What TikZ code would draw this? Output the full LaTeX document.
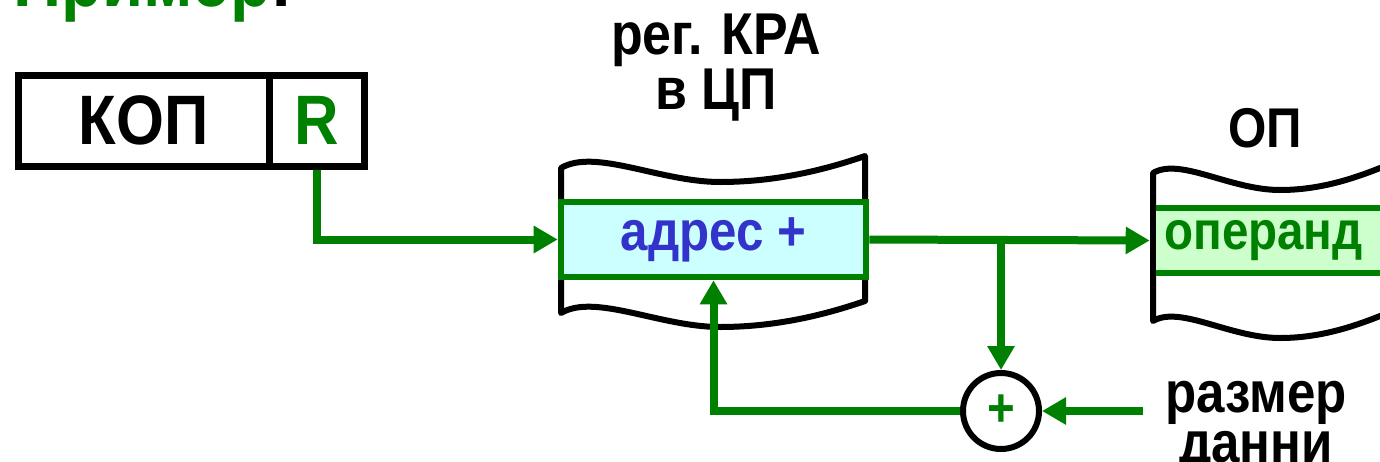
\documentclass[tikz,border=0pt]{standalone}
\usepackage{fontspec}
\setmainfont{Liberation Sans}[FakeStretch=0.88]
\usetikzlibrary{arrows.meta}
\definecolor{G}{HTML}{008000}
\definecolor{B}{HTML}{3333CC}
\definecolor{C}{HTML}{CCFFFF}
\definecolor{LG}{HTML}{CCFFCC}
\begin{document}
\begin{tikzpicture}[x=0.5pt,y=-0.5pt,
  grn/.style={draw=G, line width=4pt},
  arr/.style={grn, -{Triangle[length=12pt,width=13pt]}},
  wave/.style={draw=black, line width=3pt, fill=white, line join=round},
  box/.style={draw=black, line width=3.5pt, inner sep=0pt, minimum height=45.25pt},
  reg/.style={draw=G, line width=3.3pt, inner sep=0pt},
  txt/.style={font=\bfseries\fontsize{#1}{#1}\selectfont, inner sep=0pt},
  txt/.default=30
  ]
\useasboundingbox (0,0) rectangle (1380,461);

% title
\node[txt=38, anchor=base west, text=G] (title) at (13,6) {Пример\textcolor{black}{:}};

% instruction
\node[box, minimum width=125.25pt, txt=35] (kop) at (143.75,120.75) {КОП};
\node[box, minimum width=47.75pt, txt=35, text=G] (r) at (316.75,120.75) {R};

% register
\node[txt=29.5, align=center] (regt) at (716,68) {рег. КРА\\[-2pt]в ЦП};
\path[wave] (561,168) .. controls (595,148) and (660,182) .. (720,182)
  .. controls (780,182) and (830,168) .. (865,156) -- (865,301)
  .. controls (830,313) and (780,327) .. (720,327)
  .. controls (660,327) and (595,293) .. (561,313) -- cycle;
\node[reg, fill=C, minimum width=152.5pt, minimum height=37.5pt, txt=28, text=B] (kra) at (713.5,239.5) {адрес +};

% memory
\node[txt=28, anchor=base] (opt) at (1265,147) {ОП};
\path[wave] (1153,173) .. controls (1180,157) and (1230,190) .. (1280,190)
  .. controls (1330,190) and (1370,172) .. (1400,160) -- (1400,308)
  .. controls (1370,320) and (1330,338) .. (1280,338)
  .. controls (1230,338) and (1180,305) .. (1153,321) -- cycle;
\node[reg, fill=LG, minimum width=116.5pt, minimum height=32.5pt, txt=27, text=G] (op) at (1269.5,240.5) {\hspace*{-6pt}операнд};
\draw[black, line width=3pt] (1153,173) -- (1153,321);

% adder
\node[circle, draw=black, line width=3pt, minimum size=38pt, inner sep=0pt, txt=27, text=G] (sum) at (1001,411) {+};
\node[txt=29, align=center, anchor=base] (sz) at (1256,462) {размер\\[-4pt]данни};
\coordinate (j) at (1001,239.5);
\coordinate (in) at (1143,411);

% connectors
\draw[arr] (r.south) |- (kra.west);
\draw[arr] (kra.east) -- (op.west);
\draw[arr] (j) -- (sum.north);
\draw[arr] (sum.west) -| (kra.south);
\draw[arr] (in) -- (sum.east);
\end{tikzpicture}
\end{document}
